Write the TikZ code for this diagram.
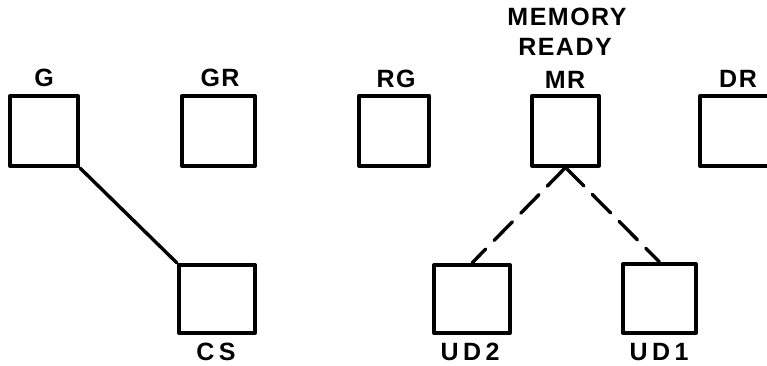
\documentclass[tikz,border=0pt]{standalone}
\usepackage{fontspec}
\newfontfamily\toplbl[LetterSpace=6]{Liberation Sans}
\newfontfamily\botlbl[LetterSpace=18]{Liberation Sans}
\begin{document}
\begin{tikzpicture}[x=1pt,y=-1pt,
  regbox/.style={draw,line width=4pt,inner sep=0pt,minimum width=72pt,minimum height=70pt,line join=round},
  toplabel/.style={anchor=base,inner sep=0pt,font=\toplbl\bfseries\fontsize{25}{30}\selectfont},
  botlabel/.style={anchor=base,inner sep=0pt,font=\botlbl\bfseries\fontsize{25}{30}\selectfont},
  link/.style={line width=3.4pt,line cap=round}]
\clip (0,0) rectangle (767,365);
\fill[white] (0,0) rectangle (767,365);
% top row boxes
\node[regbox,minimum width=68pt] (G) at (44,131) {};
\node[regbox,minimum width=73pt] (GR) at (218.5,131) {};
\node[regbox,minimum width=70pt] (RG) at (394,130.5) {};
\node[regbox,minimum width=67pt] (MR) at (565.5,130.5) {};
\node[regbox,minimum width=74pt] (DR) at (737,131) {};
% bottom row boxes
\node[regbox,minimum width=76pt,minimum height=68pt] (CS) at (217,299) {};
\node[regbox,minimum width=76pt,minimum height=68pt] (UD2) at (472,299) {};
\node[regbox,minimum width=73pt,minimum height=69pt] (UD1) at (659.5,298.5) {};
% labels
\node[toplabel] (Gl) at (44,86) {G};
\node[toplabel] (GRl) at (220,86) {GR};
\node[toplabel] (RGl) at (396,87) {RG};
\node[toplabel] (MRl) at (565,88) {MR};
\node[toplabel] (RDl) at (565,55) {READY};
\node[toplabel] (MEl) at (567,25) {MEMORY};
\node[toplabel] (DRl) at (738,87) {DR};
\node[botlabel] (CSl) at (216,360) {CS};
\node[botlabel] (UD2l) at (470,360) {UD2};
\node[botlabel] (UD1l) at (659,360) {UD1};
% connectors
\draw[link] (G.south east) -- (CS.north west);
\draw[link,dash pattern=on 26pt off 12pt] (MR.south) -- (UD2.north);
\draw[link,dash pattern=on 26pt off 12pt] (MR.south) -- (UD1.north);
\end{tikzpicture}
\end{document}
